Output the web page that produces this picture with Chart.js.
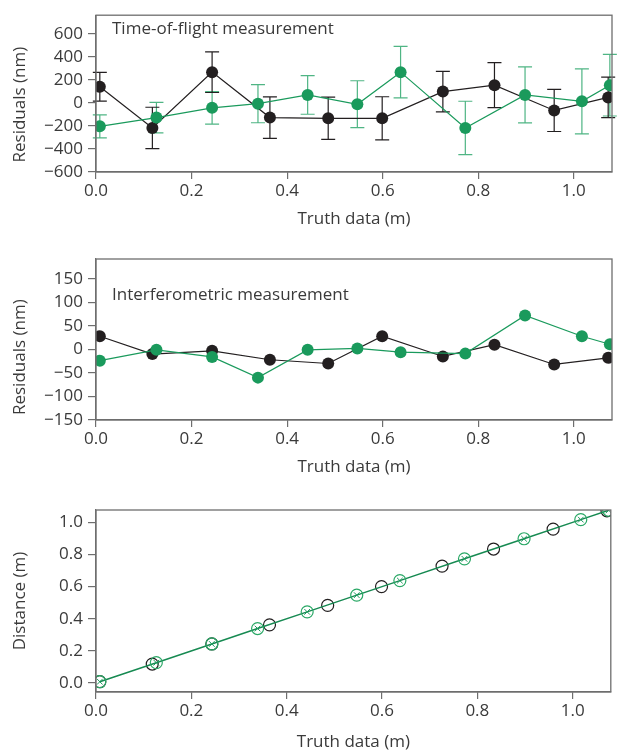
<!DOCTYPE html>
<html>
<head>
<meta charset="utf-8">
<script src="https://cdn.jsdelivr.net/npm/chart.js@4.4.0/dist/chart.umd.min.js"></script>
<style>
  body { margin: 0; background: #fff; }
  #wrap { position: relative; width: 618px; height: 752px; }
  canvas { position: absolute; left: 0; }
</style>
</head>
<body>
<div id="wrap">
  <canvas id="tofChart" width="618" height="236" style="top:0px"></canvas>
  <canvas id="intChart" width="618" height="248" style="top:236px"></canvas>
  <canvas id="distChart" width="618" height="268" style="top:484px"></canvas>
</div>
<script>
// values
const truthBlack = [0.008, 0.118, 0.243, 0.364, 0.486, 0.599, 0.726, 0.834, 0.959, 1.072];
const truthGreen = [0.008, 0.1265, 0.243, 0.339, 0.443, 0.547, 0.6375, 0.773, 0.898, 1.017, 1.0755];

// time-of-flight residuals (nm) and error bar half widths
const tofBlack = [141, -217, 268, -127, -133, -133, 99, 155, -65, 48];
const tofBlackErr = [125, 180, 177, 180, 183, 187, 176, 195, 183, 176];
const tofGreen = [-203, -127, -42, -6, 70, -11, 268, -217, 70, 14, 155];
const tofGreenErr = [100, 133, 141, 166, 168, 204, 224, 232, 243, 282, 268];

// interferometric residuals (nm)
const intBlack = [28, -10, -3, -22, -30, 28, -15, 10, -32, -18];
const intGreen = [-24, -1, -16, -60, -1, 2, -6, -9, 72, 28, 11];

// measured distance (m)
const distBlack = [0.008, 0.118, 0.243, 0.362, 0.483, 0.6, 0.728, 0.834, 0.958, 1.072];
const distGreen = [0.008, 0.1265, 0.243, 0.339, 0.443, 0.547, 0.6375, 0.773, 0.898, 1.017, 1.0755];

const tofTicks = [-600, -400, -200, 0, 200, 400, 600];
const intTicks = [-150, -100, -50, 0, 50, 100, 150];
const distTicks = [0, 0.2, 0.4, 0.6, 0.8, 1.0];
const truthTicks = [0, 0.2, 0.4, 0.6, 0.8, 1.0];

const BLACK = "#231f20";
const GREEN = "#1a9a5c";
const GREEN_LIGHT = "#4fb584";
const AXIS = "#6e6e6e";
const TEXT = "#3a3a3a";
const FONT = "Open Sans";

Chart.defaults.font.family = FONT;
Chart.defaults.color = TEXT;

function pts(xs, ys) {
  return xs.map((x, i) => ({x: x, y: ys[i]}));
}

function fmt(v, digits) {
  return Number(v).toFixed(digits).replace("-", "\u2212");
}

// box around the plot + label inside + error bars
const boxPlugin = {
  id: "box",
  beforeDatasetsDraw(chart) {
    const ctx = chart.ctx;
    chart.data.datasets.forEach((ds, di) => {
      if (!ds.errors) return;
      const xs = chart.scales.x, ys = chart.scales.y;
      ctx.save();
      ctx.strokeStyle = ds.errColor;
      ctx.lineWidth = 1.2;
      ds.data.forEach((p, i) => {
        const px = xs.getPixelForValue(p.x);
        const top = ys.getPixelForValue(p.y + ds.errors[i]);
        const bot = ys.getPixelForValue(p.y - ds.errors[i]);
        ctx.beginPath();
        ctx.moveTo(px, top); ctx.lineTo(px, bot);
        ctx.moveTo(px - 7, top); ctx.lineTo(px + 7, top);
        ctx.moveTo(px - 7, bot); ctx.lineTo(px + 7, bot);
        ctx.stroke();
      });
      ctx.restore();
    });
  },
  afterDraw(chart, args, opts) {
    const ctx = chart.ctx, a = chart.chartArea;
    ctx.save();
    ctx.strokeStyle = AXIS;
    ctx.lineWidth = 1.3;
    ctx.strokeRect(a.left, a.top, a.right - a.left, a.bottom - a.top);
    if (opts.label) {
      ctx.fillStyle = TEXT;
      ctx.font = "17px " + FONT;
      ctx.textBaseline = "middle";
      ctx.fillText(opts.label, a.left + opts.dx, a.top + opts.dy);
    }
    ctx.restore();
  }
};

function makeChart(id, cfg) {
  return new Chart(id, {
    type: "scatter",
    data: {datasets: cfg.datasets},
    plugins: [boxPlugin],
    options: {
      responsive: false,
      animation: false,
      devicePixelRatio: 1,
      layout: {padding: {top: cfg.padTop, right: 4, left: 0, bottom: 0}},
      plugins: {
        legend: {display: false},
        tooltip: {enabled: false},
        box: {label: cfg.label, dx: 16, dy: cfg.labelDy}
      },
      scales: {
        x: {
          type: "linear",
          min: 0, max: 1.08,
          afterBuildTicks: s => { s.ticks = truthTicks.map(v => ({value: v})); },
          afterFit: s => { s.height = cfg.xHeight; },
          grid: {drawOnChartArea: false, tickLength: 7, color: AXIS, lineWidth: 1.2},
          border: {color: AXIS, width: 1.2},
          ticks: {font: {size: 17}, color: TEXT, padding: 2, maxRotation: 0, callback: v => fmt(v, 1)},
          title: {display: true, text: "Truth data (m)", font: {size: 17}, color: TEXT, padding: {top: 0, bottom: cfg.xTitlePad}}
        },
        y: {
          type: "linear",
          min: cfg.yMin, max: cfg.yMax,
          afterBuildTicks: s => { s.ticks = cfg.yTicks.map(v => ({value: v})); },
          afterFit: s => { s.width = 96; },
          grid: {drawOnChartArea: false, tickLength: 8, color: AXIS, lineWidth: 1.2},
          border: {color: AXIS, width: 1.2},
          ticks: {font: {size: 17}, color: TEXT, padding: 5, callback: v => fmt(v, cfg.yDigits)},
          title: {display: true, text: cfg.yTitle, font: {size: 17}, color: TEXT, padding: {top: 10, bottom: 0}}
        }
      }
    }
  });
}

makeChart("tofChart", {
  padTop: 11, xHeight: 64, xTitlePad: 7,
  yMin: -600, yMax: 763, yTicks: tofTicks, yDigits: 0,
  yTitle: "Residuals (nm)     ",
  label: "Time-of-flight measurement", labelDy: 14,
  datasets: [
    {data: pts(truthGreen, tofGreen), errors: tofGreenErr, errColor: GREEN_LIGHT, showLine: true,
     borderColor: GREEN, borderWidth: 1.2, backgroundColor: GREEN, pointRadius: 6, pointBorderWidth: 0, order: 0},
    {data: pts(truthBlack, tofBlack), errors: tofBlackErr, errColor: BLACK, showLine: true,
     borderColor: BLACK, borderWidth: 1.2, backgroundColor: BLACK, pointRadius: 6, pointBorderWidth: 0, order: 1}
  ]
});

makeChart("intChart", {
  padTop: 23, xHeight: 64, xTitlePad: 7,
  yMin: -150, yMax: 192, yTicks: intTicks, yDigits: 0,
  yTitle: "Residuals (nm)        ",
  label: "Interferometric measurement", labelDy: 36,
  datasets: [
    {data: pts(truthGreen, intGreen), showLine: true,
     borderColor: GREEN, borderWidth: 1.2, backgroundColor: GREEN, pointRadius: 6, pointBorderWidth: 0, order: 0},
    {data: pts(truthBlack, intBlack), showLine: true,
     borderColor: BLACK, borderWidth: 1.2, backgroundColor: BLACK, pointRadius: 6, pointBorderWidth: 0, order: 1}
  ]
});

makeChart("distChart", {
  padTop: 26, xHeight: 60, xTitlePad: 0,
  yMin: -0.056, yMax: 1.077, yTicks: distTicks, yDigits: 1,
  yTitle: "Distance (m)",
  label: null, labelDy: 0,
  datasets: [
    {data: pts(truthGreen, distGreen), showLine: false, pointStyle: "crossRot",
     borderColor: GREEN, borderWidth: 1, pointRadius: 4, order: 0},
    {data: pts(truthGreen, distGreen), showLine: true,
     borderColor: "#178a52", borderWidth: 1.5, backgroundColor: "rgba(0,0,0,0)",
     pointBorderColor: "#2aa866", pointRadius: 6, pointBorderWidth: 1.2, order: 1},
    {data: pts(truthBlack, distBlack), showLine: false,
     borderColor: BLACK, backgroundColor: "rgba(0,0,0,0)", pointRadius: 6, pointBorderWidth: 1.2, order: 2}
  ]
});
</script>
</body>
</html>
